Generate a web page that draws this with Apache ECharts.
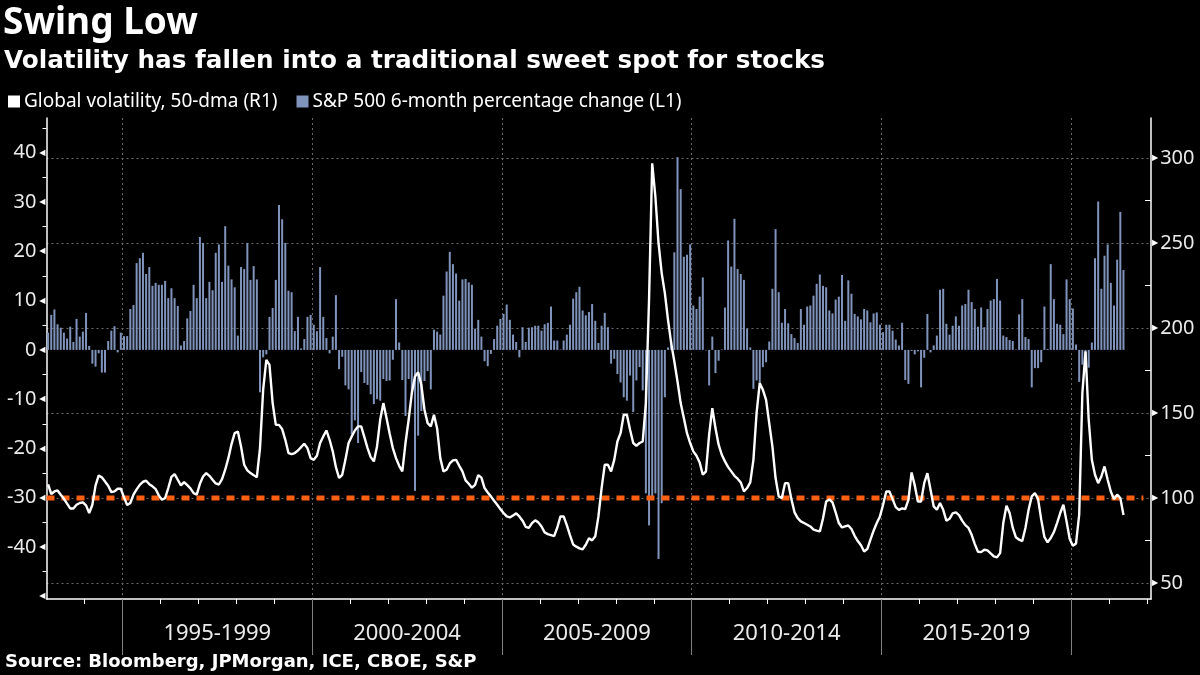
<!DOCTYPE html>
<html><head><meta charset="utf-8">
<script src="https://cdn.jsdelivr.net/npm/echarts@6/dist/echarts.min.js"></script>
<style>html,body{margin:0;background:#000}#c{width:1200px;height:675px}</style>
</head><body><div id="c"></div>
<script>
// ---- data (monthly, starting Jan 1993) ----
const startYear = 1993;
const spxName = 'S&P 500 6-month percentage change (L1)';
const volName = 'Global volatility, 50-dma (R1)';

const spxChange6m = [
 3.5, 7.1, 8.2, 5.2, 4.5, 3.5, 2.3, 4.7, 1.6, 6.3,
 2.7, 3.7, 7.5, 0.8, -2.8, -3.4, -0.7, -4.6, -4.6, 1.8,
 3.9, 4.8, -0.5, 3.5, 2.8, 2.8, 8.3, 9.1, 17.6, 18.6,
 19.7, 15.4, 16.8, 13.0, 13.6, 13.2, 13.2, 14.0, 10.5, 12.5,
 10.5, 8.9, 0.9, 1.8, 6.4, 7.9, 13.2, 10.5, 22.9, 21.7,
 10.5, 13.8, 12.1, 19.7, 21.4, 13.8, 25.1, 17.1, 14.3, 12.7,
 2.9, 16.8, 16.4, 21.7, 14.2, 17.0, 14.3, -8.6, -1.5, -0.9,
 6.7, 8.5, 14.2, 29.4, 26.5, 21.7, 12.0, 11.7, 3.8, 6.7,
 0.3, 2.2, 6.7, 7.1, 5.1, 3.8, 16.8, 6.7, 2.4, -0.7,
 2.7, 11.1, -3.9, -1.4, -7.2, -8.0, -17.1, -14.3, -18.9, -4.5,
 -6.7, -7.1, -9.0, -11.0, -10.0, -10.3, -5.9, -6.3, -6.2, -2.0,
 10.3, 1.5, -6.1, -13.4, -5.9, -8.6, -28.6, -17.4, -12.4, -6.3,
 -4.3, -8.0, 4.1, 3.7, 3.1, 11.0, 15.9, 19.9, 17.4, 15.5,
 10.0, 14.3, 14.4, 13.7, 13.2, 4.3, 6.1, 2.7, -2.3, -3.3,
 -0.8, 2.2, 4.9, 6.3, 7.3, 9.2, 6.1, 3.1, 1.6, -1.5,
 4.6, 1.6, 4.5, 4.6, 4.9, 4.9, 3.9, 5.2, 5.5, 8.8,
 1.9, 1.9, 0.1, 1.9, 3.1, 5.1, 10.4, 11.7, 12.8, 8.0,
 7.0, 7.7, 9.3, 5.9, 1.4, 4.9, 7.5, 4.6, -2.8, -1.8,
 -4.9, -6.6, -9.6, -10.3, -5.2, -12.6, -6.2, -3.5, -8.2, -29.1,
 -35.6, -29.9, -29.1, -42.4, -31.1, -9.6, 0.5, 1.9, 19.8, 39.1,
 32.6, 18.9, 19.3, 21.4, 9.0, 8.3, 10.8, 14.7, -0.1, -7.2,
 2.7, -4.7, -2.2, 0.1, 8.6, 22.2, 16.9, 26.6, 16.4, 15.4,
 14.2, 4.3, 0.5, -7.9, -6.2, -6.9, -3.5, -2.5, 1.7, 12.4,
 24.5, 11.7, 5.5, 8.3, 5.4, 3.2, 2.4, 1.4, 8.3, 5.1,
 8.8, 9.0, 11.0, 13.4, 15.3, 13.0, 12.7, 8.0, 7.4, 10.2,
 10.8, 15.2, 5.9, 14.1, 11.4, 7.3, 6.8, 6.2, 8.3, 8.0,
 5.6, 7.4, 7.6, 5.1, 3.6, 5.1, 5.1, 3.9, 2.1, 0.9,
 5.5, -6.1, -6.9, -0.2, -0.9, -0.3, -7.6, -1.6, 7.3, -0.5,
 0.9, 2.9, 12.2, 12.4, 5.3, 3.1, 4.9, 6.8, 4.9, 9.0,
 9.3, 12.2, 9.7, 8.3, 4.7, 8.6, 4.6, 8.3, 10.0, 10.3,
 14.4, 10.0, 2.9, 2.6, 2.0, 1.8, 0.1, 7.2, 10.3, 2.6,
 2.2, -7.6, -3.7, -3.7, -2.5, 8.8, 0.2, 17.4, 10.3, 5.3,
 5.1, 3.2, 14.3, 10.3, 8.4, 1.1, -6.5, -3.0, -2.0, -3.6,
 1.5, 18.6, 30.1, 12.4, 19.1, 21.4, 13.6, 9.0, 18.3, 28.0, 16.2
];

const globalVol50dma = [
 108, 102.4, 103.9, 104.5, 102, 99.6, 96.7, 93.9, 93.9, 96.1,
 97.1, 97.5, 95.7, 91.2, 96.1, 107.3, 113.3, 112.2, 109.8, 107.3,
 103.5, 103.9, 105.5, 105.5, 100.4, 95.9, 97.1, 102, 105.1, 107.8,
 109.6, 110.2, 108.2, 106.9, 105.3, 101.6, 99, 100, 105.9, 112.5,
 114.1, 110.8, 107.5, 109.4, 107.6, 105.7, 102.9, 102, 108.4, 112.7,
 114.7, 113.1, 110.8, 108.6, 108, 111.2, 116.7, 123.5, 131.8, 138.2,
 139.2, 130.4, 119.6, 116.3, 114.7, 113.5, 112.2, 129.4, 163.7, 181.4,
 178.4, 155.9, 143.1, 143.1, 140.6, 134.3, 126.5, 125.9, 126.5, 128,
 130, 132, 129.4, 123.5, 122.5, 124.9, 132.4, 136.3, 139.8, 134.3,
 127.5, 118.2, 111.8, 113.7, 122.5, 132.4, 136.3, 139.8, 142.2, 142.2,
 135.9, 129.4, 124.1, 121.6, 130.4, 146.1, 155.9, 147.1, 137.8, 129.4,
 123.5, 119, 115.7, 132.4, 146.1, 161.8, 171.6, 174.1, 166.7, 152,
 144.1, 142.2, 149, 141, 123.5, 115.7, 116.7, 120.4, 122.2, 122.5,
 119, 115.7, 110.4, 108.4, 106.1, 107.8, 113.5, 112, 105.9, 103.3,
 101, 98.4, 96.1, 93.5, 91.2, 89.2, 88.6, 89.8, 91, 89.2,
 86.7, 83.1, 82.5, 85.3, 86.9, 85.7, 83.3, 79.8, 78.8, 78.2,
 77.6, 82.7, 89.2, 89.2, 84.1, 78.2, 72.7, 71.4, 70.4, 69.8,
 72.5, 76.3, 75.1, 77.5, 89.2, 105.9, 119.6, 119.6, 115.7, 122.5,
 133.3, 138.2, 149, 149, 140.2, 132.4, 130.8, 132.4, 133.3, 155.9,
 216.7, 297, 277.5, 250, 232.4, 220.6, 204.9, 191.2, 180.4, 168.6,
 155.9, 147.1, 138.2, 132.4, 127.5, 124.9, 121, 113.7, 115.7, 137.3,
 152.9, 141.2, 131.4, 125.5, 121.6, 118.2, 115.7, 113.1, 111.4, 109.2,
 103.9, 105.9, 109.2, 122.5, 150, 167.6, 163.7, 157.8, 144.1, 130.4,
 111.8, 101, 100, 108.8, 108.8, 99.4, 91.6, 88.2, 86.3, 85.3,
 84.3, 83.3, 81.4, 80.8, 80.4, 88, 98, 99.2, 97.5, 91.6,
 85.3, 82.7, 83.3, 83.9, 81.8, 77.8, 74.7, 72.2, 68.6, 70,
 75.5, 80.8, 85.3, 89.2, 96.1, 103.9, 103.9, 99.4, 94.7, 93.1,
 93.9, 93.5, 99, 115.1, 107.6, 98, 98, 108.8, 114.7, 104.9,
 95.1, 93.1, 97.1, 93.1, 86.7, 87.8, 91, 91.6, 90, 86.7,
 84.1, 82.4, 78.4, 72.9, 68.4, 68.2, 69.6, 69.2, 67.5, 65.7,
 65.1, 67.6, 85.3, 95.5, 91.2, 82.4, 76.9, 75.5, 74.7, 82.4,
 93.1, 101, 102.9, 99.4, 87.3, 77.1, 73.9, 76.5, 80, 85.3,
 91.2, 96.1, 86.3, 75.9, 72, 73.3, 90.2, 161.8, 186.3, 146.1,
 122.5, 113.7, 108.8, 112.7, 118.6, 110.8, 103.9, 99.4, 102, 100, 90
];

const periodLabels = ['1995-1999', '2000-2004', '2005-2009', '2010-2014', '2015-2019'];
const periodStarts = [1995, 2000, 2005, 2010, 2015, 2020];
const yearTicks = [1994, 1995, 1996, 1997, 1998, 1999, 2000, 2001, 2002, 2003, 2004, 2005, 2006, 2007, 2008,
  2009, 2010, 2011, 2012, 2013, 2014, 2015, 2016, 2017, 2018, 2019, 2020, 2021, 2022];
const leftLabels = [-50, -40, -30, -20, -10, 0, 10, 20, 30, 40];
const leftMinor = [-45, -35, -25, -15, -5, 5, 15, 25, 35, 45];
const rightLabels = [50, 100, 150, 200, 250, 300];
const rightMinor = [75, 125, 175, 225, 275];
const sweetSpotLevel = 100;
const sweetSpotSpan = [1993.0, 2021.9];

// ---- build ----
const FONT = "'Noto Sans', 'DejaVu Sans', sans-serif";
const BOLD = "'DejaVu Sans', 'Noto Sans', sans-serif";
const barColor = '#8093bb';
const monthPos = i => startYear + (i + 0.5) / 12;
const barData = spxChange6m.map((v, i) => [monthPos(i), v]);
const volData = globalVol50dma.map((v, i) => [monthPos(i), v]);
const periodMids = periodLabels.map((_, k) => periodStarts[k] + 2.5);
const grid = '#6a6a6a';

const chart = echarts.init(document.getElementById('c'), null, {renderer: 'canvas'});
chart.setOption({
  backgroundColor: '#000',
  animation: false,
  textStyle: {fontFamily: FONT},
  title: [
    {text: 'Swing Low', left: 3, top: 5, padding: 0, textStyle: {color: '#fff', fontSize: 37, fontWeight: 'bold', fontFamily: FONT}},
    {text: 'Volatility has fallen into a traditional sweet spot for stocks', left: 4, top: 49, padding: 0,
     textStyle: {color: '#fff', fontSize: 24.7, fontWeight: 'bold', fontFamily: BOLD}},
    {text: 'Source: Bloomberg, JPMorgan, ICE, CBOE, S&P', left: 5, top: 653, padding: 0,
     textStyle: {color: '#fff', fontSize: 18, fontWeight: 'bold', fontFamily: BOLD}}
  ],
  legend: {
    left: 8, top: 92, padding: 0, icon: 'rect', itemWidth: 12, itemHeight: 12, itemGap: 19,
    textStyle: {color: '#fff', fontSize: 19, fontFamily: FONT, padding: [0, 0, 0, -1]},
    data: [{name: volName, itemStyle: {color: '#fff'}}, {name: spxName, itemStyle: {color: barColor}}]
  },
  grid: {left: 46.5, right: 49, top: 118, bottom: 76},
  xAxis: [
    {type: 'value', min: 1993, max: 2022.1, position: 'bottom',
     axisLine: {onZero: false, lineStyle: {color: '#fff', width: 1.5}},
     axisTick: {customValues: yearTicks, length: 5, lineStyle: {color: '#fff'}},
     axisLabel: {customValues: periodMids, margin: 24, color: '#eaeaea', fontSize: 22, fontFamily: FONT,
       formatter: v => periodLabels[Math.round((v - periodMids[0]) / 5)]},
     splitLine: {show: false}},
    {type: 'value', min: 1993, max: 2022.1, position: 'bottom',
     axisLine: {show: false, onZero: false},
     axisTick: {customValues: periodStarts, length: 56, lineStyle: {color: '#808080'}},
     axisLabel: {show: false},
     splitLine: {show: true, lineStyle: {color: grid, type: [2, 3], width: 1}}}
  ],
  yAxis: [
    {type: 'value', position: 'left', min: -50.53, max: 47.04,
     axisLine: {show: true, lineStyle: {color: '#fff', width: 1.5}},
     axisTick: {show: true, customValues: leftMinor, length: 4, lineStyle: {color: '#fff'}},
     axisLabel: {customValues: leftLabels, margin: 1,
       formatter: v => v === -50 ? '{t|◀}' : '{n|' + v + '}{t|◀}',
       rich: {n: {fontSize: 20, color: '#eaeaea', fontFamily: FONT, padding: [0, 3, 0, 0]},
              t: {fontSize: 8, color: '#fff', fontFamily: 'DejaVu Sans'}}},
     splitLine: {show: false}},
    {type: 'value', position: 'right', min: 40.6, max: 323.7,
     axisLine: {show: true, lineStyle: {color: '#fff', width: 1.5}},
     axisTick: {show: false, customValues: rightLabels},
     axisLabel: {customValues: rightLabels, margin: 1,
       formatter: v => '{t|▶}{n|' + v + '}',
       rich: {n: {fontSize: 20, color: '#eaeaea', fontFamily: FONT, padding: [0, 0, 0, 2]},
              t: {fontSize: 8, color: '#fff', fontFamily: 'DejaVu Sans'}}},
     splitLine: {show: true, lineStyle: {color: grid, type: [2, 3], width: 1}}},
    {type: 'value', position: 'right', min: 40.6, max: 323.7,
     axisLine: {show: false},
     axisTick: {show: true, inside: true, customValues: rightMinor, length: 6, lineStyle: {color: '#fff'}},
     axisLabel: {show: false},
     splitLine: {show: false}}
  ],
  series: [
    {name: spxName, type: 'bar', xAxisIndex: 0, yAxisIndex: 0, data: barData, barWidth: 2,
     itemStyle: {color: barColor}, z: 2},
    {name: 'Sweet spot', type: 'line', xAxisIndex: 0, yAxisIndex: 1, silent: true,
     data: [[sweetSpotSpan[0], sweetSpotLevel], [sweetSpotSpan[1], sweetSpotLevel]],
     symbol: 'none', lineStyle: {color: '#fa5f12', width: 5, type: [8, 7]}, z: 3},
    {name: volName, type: 'line', xAxisIndex: 0, yAxisIndex: 1, data: volData, symbol: 'none',
     lineStyle: {color: '#fff', width: 2.4}, itemStyle: {color: '#fff'}, z: 4}
  ]
});
</script>
</body></html>
